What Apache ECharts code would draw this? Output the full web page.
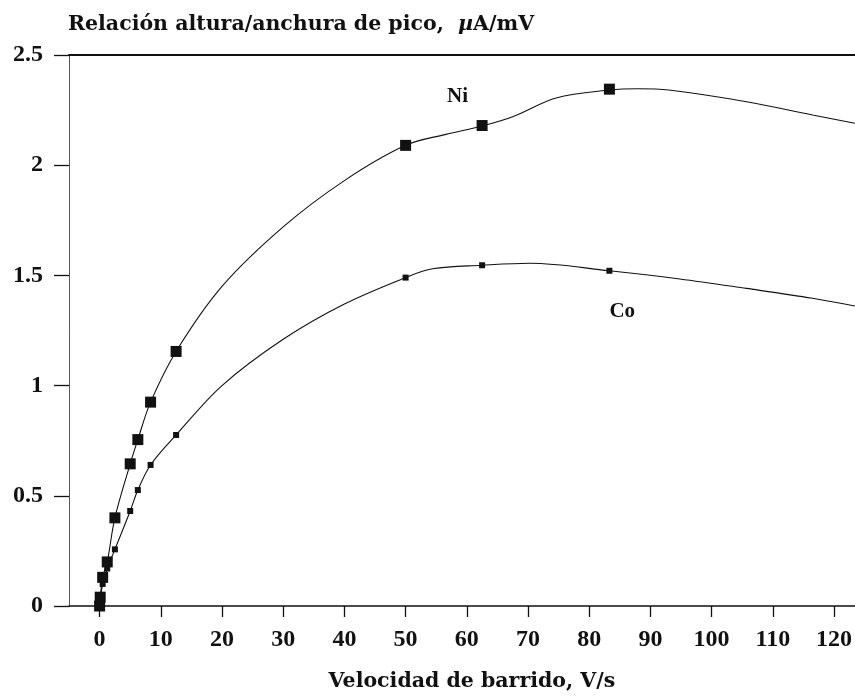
<!DOCTYPE html>
<html>
<head>
<meta charset="utf-8">
<script src="https://cdn.jsdelivr.net/npm/echarts@6/dist/echarts.min.js"></script>
<style>
  html, body { margin: 0; padding: 0; background: #fff; }
  #chart { width: 855px; height: 697px; }
</style>
</head>
<body>
<div id="chart"></div>
<script>
// Sweep rates (V/s) at which peaks were measured
const sweepRates = [0, 0.1, 0.5, 1.25, 2.5, 5, 6.25, 8.33, 12.5, 50, 62.5, 83.3];
// Peak height/width ratio (µA/mV) at each sweep rate
const niRatio = [0, 0.04, 0.13, 0.2, 0.4, 0.645, 0.755, 0.925, 1.155, 2.09, 2.18, 2.345];
const coRatio = [0, 0.03, 0.1, 0.17, 0.257, 0.431, 0.526, 0.64, 0.776, 1.49, 1.546, 1.521];

// Fitted trend curves through the measurements
const niCurveX = [0, 0.5, 1.25, 2.5, 5, 6.25, 8.33, 12.5, 20, 30, 40, 50, 56.6, 62.5, 67.5, 74.6, 83.3, 88, 93, 105.7, 116.5, 123.4];
const niCurveY = [0, 0.13, 0.2, 0.4, 0.645, 0.755, 0.925, 1.155, 1.45, 1.72, 1.93, 2.09, 2.14, 2.178, 2.22, 2.305, 2.341, 2.347, 2.341, 2.288, 2.228, 2.19];
const coCurveX = [0, 0.5, 1.25, 2.5, 5, 6.25, 8.33, 12.5, 20, 30, 40, 50, 54.4, 62.5, 70.3, 83.3, 94.8, 105.7, 116.5, 123.4];
const coCurveY = [0, 0.1, 0.17, 0.257, 0.431, 0.526, 0.64, 0.776, 1.0, 1.21, 1.37, 1.49, 1.53, 1.546, 1.555, 1.521, 1.484, 1.441, 1.396, 1.361];

// Axis ticks
const xTicks = [0, 10, 20, 30, 40, 50, 60, 70, 80, 90, 100, 110, 120];

// Curve name tags (anchor in data units)
const seriesTags = [
  { name: 'Ni', at: [58.5, 2.31] },
  { name: 'Co', at: [85.4, 1.338] }
];

const pairs = (xs, ys) => xs.map((x, i) => [x, ys[i]]);

const serif = 'DejaVu Serif';
const tickFont = 'Liberation Serif';
const ink = '#111';

const chart = echarts.init(document.getElementById('chart'), null, { renderer: 'canvas' });

chart.setOption({
  backgroundColor: '#fff',
  animation: false,
  title: {
    text: 'Relación altura/anchura de pico,  {mu|µ}A/mV',
    left: 63,
    top: 9,
    textStyle: {
      fontFamily: serif,
      fontSize: 20.5,
      fontWeight: 'bold',
      color: ink,
      rich: {
        mu: { fontFamily: serif, fontSize: 20.5, fontStyle: 'italic', fontWeight: 'bold', color: ink }
      }
    }
  },
  grid: { left: 69, right: 0, top: 55, bottom: 91, containLabel: false },
  xAxis: [
    {
      type: 'value',
      min: -5,
      max: 123.4,
      name: 'Velocidad de barrido, V/s',
      nameLocation: 'middle',
      nameGap: 65,
      nameTextStyle: {
        fontFamily: serif, fontSize: 20.5, fontWeight: 'bold', color: ink,
        padding: [0, 0, 0, 20]
      },
      axisLine: { show: true, onZero: false, lineStyle: { color: ink, width: 1.5 } },
      axisTick: { show: true, length: 11, customValues: xTicks, lineStyle: { color: ink, width: 1.3 } },
      axisLabel: {
        customValues: xTicks,
        margin: 22,
        fontFamily: tickFont, fontSize: 24, fontWeight: 'bold', color: ink
      },
      splitLine: { show: false }
    },
    {
      type: 'value',
      position: 'top',
      min: -5,
      max: 123.4,
      axisLine: { show: true, onZero: false, lineStyle: { color: ink, width: 2 } },
      axisTick: { show: false },
      axisLabel: { show: false },
      splitLine: { show: false }
    }
  ],
  yAxis: {
    type: 'value',
    min: 0,
    max: 2.5,
    interval: 0.5,
    axisLine: { show: true, onZero: false, lineStyle: { color: '#555', width: 1 } },
    axisTick: { show: true, length: 15, lineStyle: { color: ink, width: 1.3 } },
    axisLabel: {
      margin: 26,
      formatter: v => String(v),
      fontFamily: tickFont, fontSize: 24, fontWeight: 'bold', color: ink
    },
    splitLine: { show: false }
  },
  series: [
    {
      name: 'Ni curve',
      type: 'line',
      data: pairs(niCurveX, niCurveY),
      smooth: 0.35,
      showSymbol: false,
      lineStyle: { color: ink, width: 1.1 },
      z: 2
    },
    {
      name: 'Co curve',
      type: 'line',
      data: pairs(coCurveX, coCurveY),
      smooth: 0.35,
      showSymbol: false,
      lineStyle: { color: ink, width: 1.1 },
      z: 2
    },
    {
      name: 'Ni',
      type: 'scatter',
      data: pairs(sweepRates, niRatio),
      symbol: 'rect',
      symbolSize: 11,
      itemStyle: { color: ink, opacity: 1 },
      z: 4
    },
    {
      name: 'Co',
      type: 'scatter',
      data: pairs(sweepRates, coRatio),
      symbol: 'rect',
      symbolSize: 6,
      itemStyle: { color: ink, opacity: 1 },
      z: 3
    },
    {
      name: 'tags',
      type: 'scatter',
      data: seriesTags.map(t => ({ value: t.at, name: t.name })),
      symbolSize: 0,
      silent: true,
      itemStyle: { opacity: 1 },
      label: {
        show: true,
        position: 'inside',
        formatter: p => p.name,
        fontFamily: tickFont, fontSize: 21, fontWeight: 'bold', color: ink, opacity: 1
      }
    }
  ]
});
</script>
</body>
</html>
